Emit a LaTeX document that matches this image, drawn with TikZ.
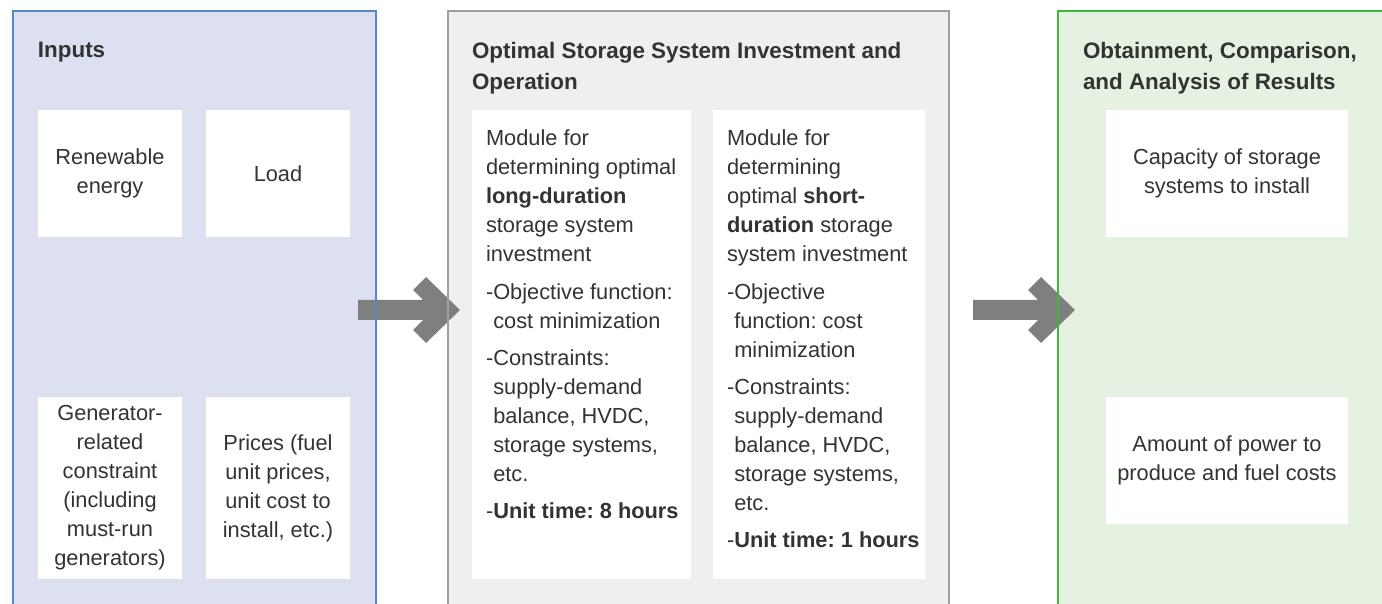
\documentclass[tikz,border=0pt]{standalone}
\usepackage{fontspec}
\setmainfont{Liberation Sans}
\usetikzlibrary{positioning,calc}
\frenchspacing

\definecolor{inblue}{HTML}{DDE0F1}
\definecolor{inblueline}{HTML}{5B86C6}
\definecolor{optgray}{HTML}{EFEFEF}
\definecolor{optgrayline}{HTML}{A0A0A0}
\definecolor{resgreen}{HTML}{E6F2E1}
\definecolor{resgreenline}{HTML}{3DB83D}
\definecolor{arrowgray}{HTML}{7F7F7F}
\definecolor{txt}{HTML}{333333}

\newcommand{\bodyfont}{\fontsize{10.9}{14.5}\selectfont}
\newcommand{\headfont}{\fontsize{11.2}{15.75}\selectfont\bfseries}

% thick gray arrow, tip at #1
\newcommand{\flowarrow}[1]{%
  \fill[arrowgray,shift={(#1)}] (-102,-10) -- (-37,-10) -- (-47,-20) -- (-34,-33) -- (0,0)
    -- (-34,33) -- (-47,20) -- (-37,10) -- (-102,10) -- cycle;}

\begin{document}
\begin{tikzpicture}[x=0.5pt,y=-0.5pt,text=txt]
\useasboundingbox (0,0) rectangle (1382,604);
\clip (0,0) rectangle (1382,604);

% set style here
\tikzstyle{every node}=[inner sep=0pt,outer sep=0pt]
\tikzstyle{panel}=[anchor=north west,line width=0.6pt,minimum height=304.5pt]
\tikzstyle{card}=[anchor=north west,fill=white,align=center,font=\bodyfont]
\tikzstyle{head}=[anchor=north west,align=left,font=\headfont]
\tikzstyle{listing}=[anchor=north west,align=left,font=\bodyfont]

% three panels
\node (inputs) at (13,11) [panel,fill=inblue,minimum width=181.5pt]{};
\node (optim) at (448,11) [panel,fill=optgray,minimum width=250.5pt]{};
\node (results) at (1058,11) [panel,fill=resgreen,minimum width=175pt]{};

\node (tin) at (38,42) [head]{Inputs};
\node (topt) at (472,42) [head]{Optimal Storage System Investment and\\Operation};
\node (tres) at (1083,42) [head]{Obtainment, Comparison,\\and Analysis of Results};

% inputs
\node (ren) at (38,110) [card,minimum width=72pt,minimum height=63.5pt]{Renewable\\energy};
\node (load) at (206,110) [card,minimum width=72pt,minimum height=63.5pt]{Load};
\node (gen) at (38,397) [card,minimum width=72pt,minimum height=91pt]
  {Generator-\\related\\constraint\\(including\\must-run\\generators)};
\node (price) at (206,397) [card,minimum width=72pt,minimum height=91pt]
  {Prices (fuel\\unit prices,\\unit cost to\\install, etc.)};

% modules
\node (mlong) at (472,110) [card,minimum width=109.5pt,minimum height=234.5pt]{};
\node (mshort) at (713,110) [card,minimum width=106pt,minimum height=234.5pt]{};
\node (tlong) at (486,130) [listing]{Module for\\determining optimal\\\textbf{long-duration}\\
  storage system\\investment\\[4.2pt]
  -Objective function:\\\phantom{-}cost minimization\\[4.2pt]
  -Constraints:\\\phantom{-}supply-demand\\\phantom{-}balance, HVDC,\\
  \phantom{-}storage systems,\\\phantom{-}etc.\\[4.2pt]
  -\textbf{Unit time: 8 hours}};
\node (tshort) at (727,130) [listing]{Module for\\determining\\optimal \textbf{short-}\\
  \textbf{duration} storage\\system investment\\[4.2pt]
  -Objective\\\phantom{-}function: cost\\\phantom{-}minimization\\[4.2pt]
  -Constraints:\\\phantom{-}supply-demand\\\phantom{-}balance, HVDC,\\
  \phantom{-}storage systems,\\\phantom{-}etc.\\[4.2pt]
  -\textbf{Unit time: 1 hours}};

% results
\node (cap) at (1106,110) [card,minimum width=121pt,minimum height=63.5pt]
  {Capacity of storage\\systems to install};
\node (amount) at (1106,397) [card,minimum width=121pt,minimum height=63.5pt]
  {Amount of power to\\produce and fuel costs};

% arrows between panels
\coordinate (tip1) at (460,310);
\coordinate (tip2) at (1075,310);
\flowarrow{tip1}
\flowarrow{tip2}

% panel borders on top
\foreach \p/\c in {inputs/inblueline,optim/optgrayline,results/resgreenline}
  \draw[\c,line width=0.6pt] (\p.south west) rectangle (\p.north east);

\end{tikzpicture}
\end{document}
